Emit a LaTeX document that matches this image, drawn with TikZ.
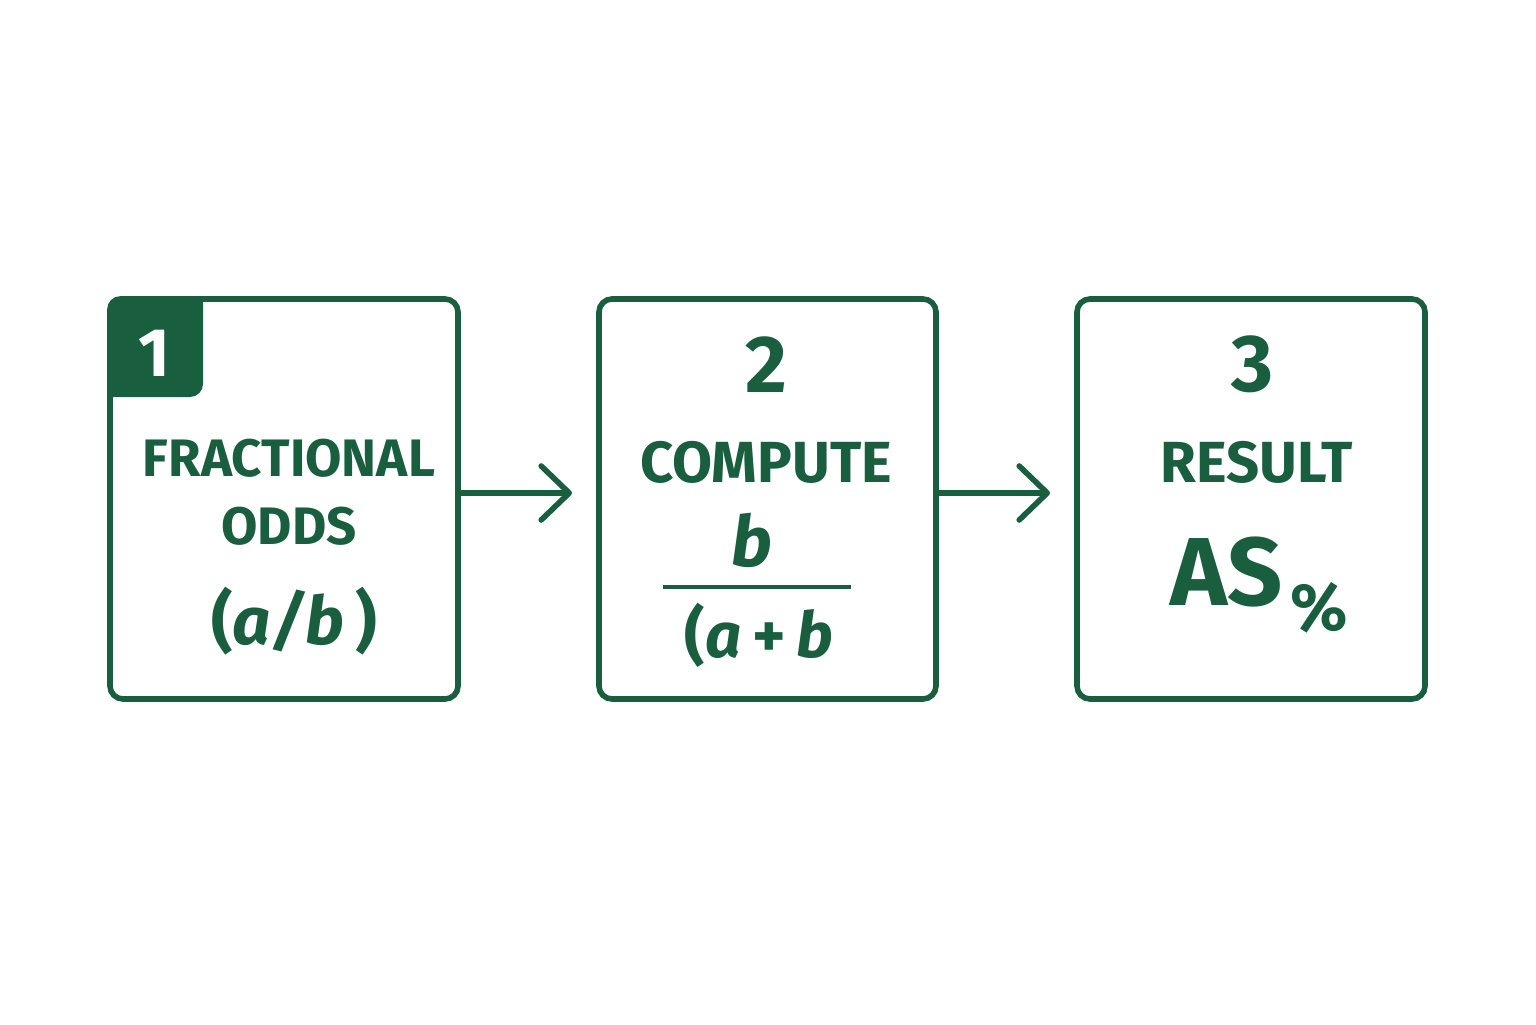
\documentclass[tikz,border=0pt]{standalone}
\usepackage{fontspec}
\setmainfont{Fira Sans}
\usepackage{tikz}
\usetikzlibrary{arrows.meta, positioning}
\definecolor{oddsgreen}{RGB}{26,94,64}
\tikzset{>={Straight Barb[length=2.8mm, width=5.4mm, round]}}

\begin{document}
\begin{tikzpicture}[
    stepbox/.style={draw=oddsgreen, line width=1.6pt, rounded corners=1.3mm, minimum width=#1, minimum height=4cm, inner sep=0pt},
    numlbl/.style={text=oddsgreen, inner sep=0pt, font=\bfseries\fontsize{23}{26}\selectfont},
    lbl/.style={text=oddsgreen, inner sep=0pt, font=\bfseries\fontsize{#1}{18}\selectfont},
    formula/.style={text=oddsgreen, inner sep=0pt, font=\bfseries\fontsize{#1}{22}\selectfont},
    flow/.style={->, draw=oddsgreen, line width=1.6pt, line cap=round}
  ]
  \useasboundingbox (0,0) rectangle (15.36,10.24);
  % the three steps
  \node [stepbox=3.48cm] (frac) at (2.84,5.25) {};
  \node [stepbox=3.37cm] (comp) at (7.675,5.25) {};
  \node [stepbox=3.48cm] (res) at (12.51,5.25) {};
  % badge of step 1
  \begin{scope}
    \clip [rounded corners=1.3mm] (frac.south west) rectangle (frac.north east);
    \fill [oddsgreen, rounded corners=1.3mm] (0.9,6.27) rectangle (2.03,7.5);
  \end{scope}
  \node [numlbl, text=white, font=\bfseries\fontsize{19.5}{22}\selectfont] (one) at (1.54,6.705) {1};
  \node [numlbl] (two) at (7.66,6.59) {2};
  \node [numlbl] (three) at (12.52,6.595) {3};
  % texts
  \node [lbl=15] (fractional) at (2.89,5.66) {FRACTIONAL};
  \node [lbl=15] (odds) at (2.89,4.98) {ODDS};
  \node [formula=19] (ab) at (2.94,4.03) {(\textit{a/b}\,)};
  \node [lbl=16.5] (compute) at (7.66,5.62) {COMPUTE};
  \node [formula=20] (num) at (7.52,4.84) {\textit{b}};
  \draw [oddsgreen, line width=1.1pt] (6.63,4.37) -- (8.51,4.37);
  \node [formula=18] (den) at (7.59,3.89) {(\textit{a}\,+\,\textit{b}};
  \node [lbl=16.5] (result) at (12.57,5.62) {RESULT};
  \node [formula=27.5] (as) at (12.27,4.52) {AS};
  \node [formula=19] (pct) at (13.19,4.16) {\%};
  % arrows
  \coordinate (tip1) at (5.72,5.31);
  \coordinate (tip2) at (10.50,5.31);
  \draw [flow] (frac.east |- tip1) -- (tip1);
  \draw [flow] (comp.east |- tip2) -- (tip2);
\end{tikzpicture}
\end{document}
